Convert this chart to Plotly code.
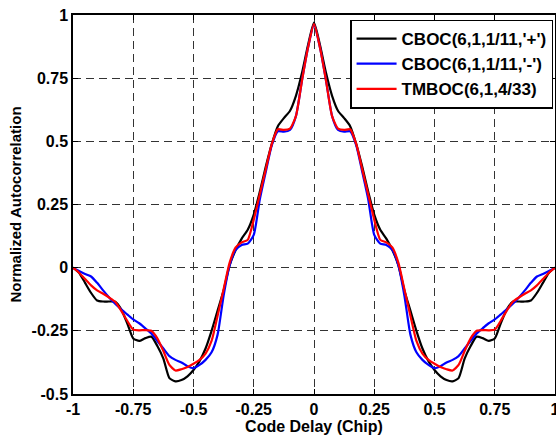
import plotly.graph_objects as go

# x grid (chip), -1 .. 1 step 0.025
delay = [round(-1 + 0.025 * i, 3) for i in range(81)]

# right half values (x = 0 .. 1)
cboc_plus_right = [0.97, 0.88, 0.77, 0.68, 0.62, 0.592, 0.56, 0.49, 0.40, 0.30,
                   0.21, 0.15, 0.115, 0.07, 0.01, -0.09, -0.17, -0.25, -0.32, -0.37,
                   -0.405, -0.43, -0.445, -0.45, -0.437, -0.36, -0.31, -0.273, -0.279, -0.29,
                   -0.28, -0.22, -0.165, -0.135, -0.134, -0.134, -0.13, -0.10, -0.06, -0.02,
                   0.0]
cboc_minus_right = [0.962, 0.87, 0.74, 0.60, 0.545, 0.538, 0.54, 0.485, 0.38, 0.27,
                    0.13, 0.095, 0.09, 0.07, 0.01, -0.11, -0.265, -0.335, -0.365, -0.385,
                    -0.398, -0.39, -0.375, -0.365, -0.35, -0.32, -0.29, -0.26, -0.24, -0.22,
                    -0.205, -0.185, -0.165, -0.143, -0.118, -0.09, -0.06, -0.035, -0.025, -0.013,
                    0.0]
tmboc_right = [0.964, 0.87, 0.74, 0.60, 0.55, 0.545, 0.548, 0.49, 0.39, 0.29,
               0.19, 0.11, 0.10, 0.08, 0.02, -0.085, -0.19, -0.29, -0.34, -0.365,
               -0.38, -0.393, -0.402, -0.407, -0.385, -0.33, -0.28, -0.25, -0.247, -0.248,
               -0.245, -0.21, -0.17, -0.135, -0.118, -0.103, -0.09, -0.07, -0.045, -0.02,
               0.0]

cboc_plus = cboc_plus_right[:0:-1] + cboc_plus_right
cboc_minus = cboc_minus_right[:0:-1] + cboc_minus_right
tmboc = tmboc_right[:0:-1] + tmboc_right

series_names = ["CBOC(6,1,1/11,'+')", "CBOC(6,1,1/11,'-')", "TMBOC(6,1,4/33)"]
series_colors = ["#000000", "#0000ff", "#ff0000"]

x_ticks = [-1, -0.75, -0.5, -0.25, 0, 0.25, 0.5, 0.75, 1]
x_ticktext = ["-1", "-0.75", "-0.5", "-0.25", "0", "0.25", "0.5", "0.75", "1"]
y_ticks = [-0.5, -0.25, 0, 0.25, 0.5, 0.75, 1]
y_ticktext = ["-0.5", "-0.25", "0", "0.25", "0.5", "0.75", "1"]

FONT = "Liberation Sans, Arial, sans-serif"

fig = go.Figure()
for name, ys, col in zip(series_names, [cboc_plus, cboc_minus, tmboc], series_colors):
    fig.add_trace(go.Scatter(x=delay, y=ys, mode="lines", name=name,
                             line=dict(color=col, width=2.2, shape="spline", smoothing=0.6)))

axis_common = dict(
    showline=True, linecolor="black", linewidth=1.5, mirror="ticks",
    ticks="inside", ticklen=5, tickcolor="black",
    showgrid=True, gridcolor="#333333", gridwidth=1, griddash="8px,5px",
    zeroline=False, ticklabeloverflow="allow",
    tickfont=dict(family=FONT, size=16, color="black", weight="bold"),
)

fig.update_xaxes(range=[-1, 1], tickvals=x_ticks, ticktext=x_ticktext,
                 title=dict(text="<b>Code Delay (Chip)</b>", font=dict(family=FONT, size=16, color="black"),
                            standoff=2),
                 **axis_common)
fig.update_yaxes(range=[-0.5, 1], tickvals=y_ticks, ticktext=y_ticktext,
                 title=dict(text="<b>Normalized Autocorrelation</b>", font=dict(family=FONT, size=15, color="black"),
                            standoff=6),
                 **axis_common)

fig.update_layout(
    width=556, height=440,
    margin=dict(l=73, r=1, t=15, b=46, autoexpand=False),
    paper_bgcolor="white", plot_bgcolor="white",
    showlegend=True,
    legend=dict(x=0.996, y=0.988, xanchor="right", yanchor="top",
                bgcolor="white", bordercolor="black", borderwidth=1.5,
                font=dict(family=FONT, size=17, color="black", weight="bold"),
                tracegroupgap=0, itemwidth=40),
)

fig.write_html("out.html", config={"displayModeBar": False},
               post_script="document.body.style.margin='0';document.body.style.overflow='hidden';")
